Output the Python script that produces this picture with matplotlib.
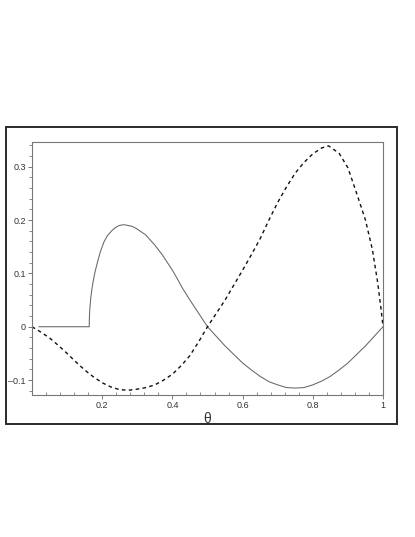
import matplotlib
matplotlib.use("Agg")
import matplotlib.pyplot as plt
from matplotlib.patches import Rectangle
from matplotlib.ticker import MultipleLocator, FixedLocator

plt.rcParams['font.family'] = ['Liberation Sans', 'DejaVu Sans']

# Solid curve (theta, value)
solid_theta = [0.02, 0.163, 0.1635, 0.165, 0.168, 0.171, 0.174, 0.18, 0.187, 0.195, 0.205,
               0.215, 0.229, 0.236, 0.243, 0.25, 0.258, 0.265, 0.272, 0.286, 0.3, 0.324,
               0.35, 0.371, 0.4, 0.414, 0.428, 0.45, 0.475, 0.5, 0.525, 0.55, 0.575, 0.6,
               0.625, 0.65, 0.675, 0.7, 0.725, 0.75, 0.775, 0.8, 0.825, 0.85, 0.875, 0.9,
               0.925, 0.95, 0.975, 1.0]
solid_vals = [0.0, 0.0, 0.018, 0.036, 0.057, 0.072, 0.084, 0.104, 0.122, 0.141, 0.159,
              0.171, 0.181, 0.185, 0.188, 0.190, 0.191, 0.191, 0.190, 0.188, 0.183, 0.172,
              0.153, 0.135, 0.106, 0.090, 0.073, 0.050, 0.025, 0.0, -0.018, -0.036, -0.052,
              -0.068, -0.081, -0.093, -0.103, -0.109, -0.114, -0.115, -0.114, -0.109, -0.102,
              -0.093, -0.081, -0.068, -0.052, -0.036, -0.018, 0.0]

# Dashed curve (theta, value)
dash_theta = [0.0, 0.025, 0.05, 0.075, 0.1, 0.125, 0.15, 0.175, 0.2, 0.225, 0.25, 0.275,
              0.3, 0.325, 0.35, 0.375, 0.4, 0.425, 0.45, 0.475, 0.5, 0.525, 0.55, 0.575,
              0.6, 0.625, 0.65, 0.675, 0.7, 0.725, 0.75, 0.775, 0.8, 0.825, 0.845, 0.875,
              0.9, 0.925, 0.95, 0.97, 0.985, 0.995, 1.0]
dash_vals = [0.0, -0.010, -0.021, -0.035, -0.050, -0.066, -0.081, -0.094, -0.105, -0.113,
             -0.118, -0.119, -0.117, -0.114, -0.109, -0.100, -0.089, -0.073, -0.054, -0.028,
             0.0, 0.025, 0.050, 0.078, 0.106, 0.135, 0.165, 0.200, 0.233, 0.262, 0.288,
             0.308, 0.324, 0.335, 0.339, 0.325, 0.298, 0.250, 0.200, 0.144, 0.082, 0.030, 0.0]

x_ticks = [0.2, 0.4, 0.6, 0.8, 1.0]
x_tick_labels = ["0.2", "0.4", "0.6", "0.8", "1"]
y_ticks = [-0.1, 0.0, 0.1, 0.2, 0.3]
y_tick_labels = ["\u20130.1", "0", "0.1", "0.2", "0.3"]
x_label = "\u03b8"

fig = plt.figure(figsize=(4.15, 5.37), dpi=100)
fig.patch.set_facecolor("white")

# outer frame
fig.patches.append(Rectangle((0.0135, 0.2104), 0.943, 0.5531, transform=fig.transFigure,
                             fill=False, edgecolor="#2a2a2a", linewidth=1.4, zorder=0))

ax = fig.add_axes([0.0771, 0.2644, 0.8458, 0.4719])
ax.plot(solid_theta, solid_vals, color="#666666", linewidth=0.75)
ax.plot(dash_theta, dash_vals, color="#111111", linewidth=1.0, dashes=(2.6, 2.4))

ax.set_xlim(0.0, 1.0)
ax.set_ylim(-0.128, 0.347)

for s in ax.spines.values():
    s.set_color("#777777")
    s.set_linewidth(0.8)

ax.xaxis.set_major_locator(FixedLocator(x_ticks))
ax.set_xticklabels(x_tick_labels)
ax.yaxis.set_major_locator(FixedLocator(y_ticks))
ax.set_yticklabels(y_tick_labels)
ax.xaxis.set_minor_locator(MultipleLocator(0.04))
ax.yaxis.set_minor_locator(MultipleLocator(0.02))

ax.tick_params(axis="both", which="major", length=3, width=0.7, color="#777777",
               labelsize=6.5, labelcolor="#333333", pad=1.5, direction="out")
ax.tick_params(axis="x", which="minor", length=2, width=0.6, color="#777777", direction="in")
ax.tick_params(axis="y", which="minor", length=2, width=0.6, color="#777777", direction="out")

ax.set_xlabel(x_label, fontsize=10, color="#333333", labelpad=1)

fig.savefig("out.png", dpi=100, facecolor="white")
